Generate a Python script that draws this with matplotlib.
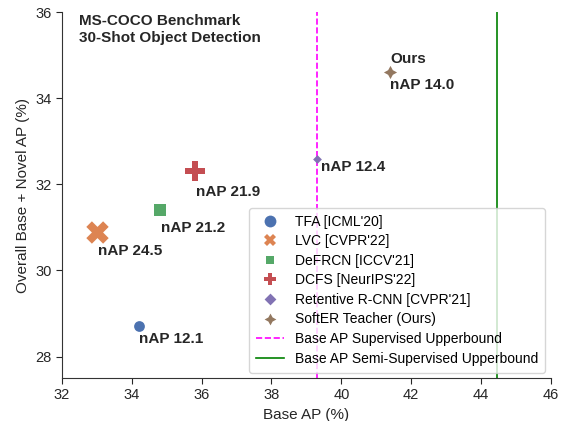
import numpy as np
import matplotlib.pyplot as plt
from matplotlib.lines import Line2D

plt.rcParams['font.family'] = ['Liberation Sans', 'DejaVu Sans']

methods = ["TFA [ICML'20]", "LVC [CVPR'22]", "DeFRCN [ICCV'21]", "DCFS [NeurIPS'22]",
           "Retentive R-CNN [CVPR'21]", "SoftER Teacher (Ours)"]
base_ap = [34.2, 33.0, 34.8, 35.8, 39.3, 41.4]
overall_ap = [28.7, 30.9, 31.4, 32.3, 32.6, 34.6]
nap = [12.1, 24.5, 21.2, 21.9, 12.4, 14.0]
sup_upper = 39.3
semi_upper = 44.45

colors = ['#4c72b0', '#dd8452', '#55a868', '#c44e52', '#8172b3', '#937860']
markers = ['o', 'X', (4, 0, 45), 'P', (4, 0, 0), (4, 1, 0)]
sizes = [60, 260, 170, 220, 40, 90]
# label offsets (points) from each marker
label_dx = [0, 1, 1, 1, 3, 0]
label_dy = [-9, -14, -13, -15, -6, -9]

fig = plt.figure(figsize=(5.69, 4.21), dpi=100)
ax = fig.add_axes([0.109, 0.102, 0.859, 0.869])

for i in range(len(methods)):
    ax.scatter(base_ap[i], overall_ap[i], s=sizes[i], c=colors[i], marker=markers[i],
               linewidths=0, zorder=3)

ax.axvline(sup_upper, color='magenta', ls='--', lw=1.2, zorder=2)
ax.axvline(semi_upper, color='green', ls='-', lw=1.2, zorder=2)

# labels under points
for i in range(len(methods)):
    ax.annotate('nAP %.1f' % nap[i], (base_ap[i], overall_ap[i]),
                xytext=(label_dx[i], label_dy[i]), textcoords='offset points',
                fontsize=11, fontweight='bold', color='#262626', ha='left', va='center', zorder=4)
ax.annotate('Ours', (base_ap[5], overall_ap[5]), xytext=(0, 10), textcoords='offset points',
            fontsize=11, fontweight='bold', color='#262626', ha='left', va='center')

ax.text(0.035, 0.995, 'MS-COCO Benchmark\n30-Shot Object Detection', transform=ax.transAxes,
        fontsize=11, fontweight='bold', color='#262626', ha='left', va='top', linespacing=1.3)

handles = [Line2D([], [], ls='none', marker=markers[i], color=colors[i], markersize=8.5,
                  markeredgewidth=0) for i in range(len(methods))]
handles.append(Line2D([], [], color='magenta', ls='--', lw=1.2))
handles.append(Line2D([], [], color='green', ls='-', lw=1.2))
labels = methods + ['Base AP Supervised Upperbound', 'Base AP Semi-Supervised Upperbound']
ax.legend(handles, labels, loc='lower right', fontsize=10, frameon=True, framealpha=0.8,
          edgecolor='#cccccc', handlelength=2.0, borderpad=0.5, labelspacing=0.4,
          borderaxespad=0.4)

ax.set_xlim(32, 46)
ax.set_ylim(27.5, 36)
ax.set_xticks(np.arange(32, 47, 2))
ax.set_yticks(np.arange(28, 37, 2))
ax.set_xlabel('Base AP (%)', fontsize=11, color='#262626')
ax.set_ylabel('Overall Base + Novel AP (%)', fontsize=11, color='#262626')
ax.tick_params(labelsize=10.5, colors='#262626', length=4)
for s in ['top', 'right']:
    ax.spines[s].set_visible(False)
for s in ['left', 'bottom']:
    ax.spines[s].set_color('#333333')

fig.savefig('out.png', dpi=100)
